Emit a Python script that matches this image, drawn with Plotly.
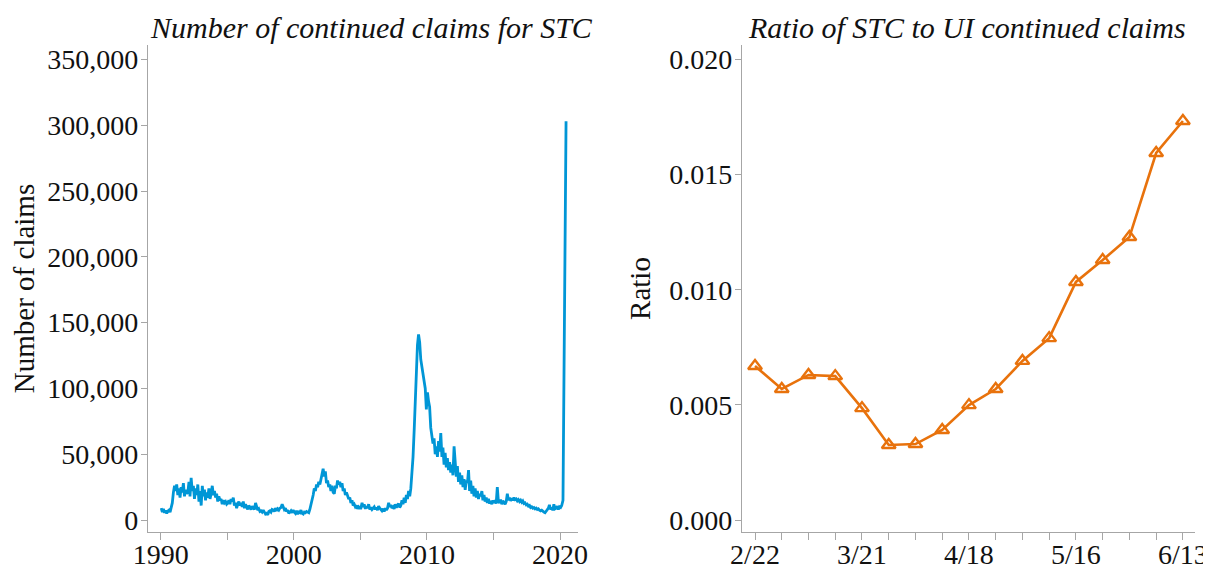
import pandas as pd
import plotly.graph_objects as go

# Monthly STC continued claims, Jan of first year onward
claims_1990s = [
    9000, 6000, 8500, 5500, 7200, 5000, 6800, 7500, 6000, 9000, 13000, 21000,
    26000, 22000, 27000, 19000, 24000, 17000, 25000, 21000, 28000, 18000, 23000, 20000,
    21000, 29000, 18000, 32000, 22000, 26000, 16000, 24000, 19000, 27000, 14000, 22000,
    11000, 26000, 18000, 23000, 15000, 21000, 17000, 24000, 16000, 20000, 26000, 19000,
    22000, 17000, 20000, 14000, 18000, 15000, 16000, 12000, 15000, 13000, 14000, 12000,
    13000, 15000, 12000, 16000, 14000, 17000, 11000, 13000, 9000, 12000, 14000, 11000,
    13000, 10000, 14000, 9000, 12000, 10000, 8000, 11000, 9500, 8000, 10500, 9000,
    8000, 13000, 9000, 7500, 8500, 6500, 7000, 6000, 7500, 5500, 4500, 5000,
    4000, 6500, 7000, 6000, 8000, 7500, 6500, 9000, 7000, 8500, 7500, 9000,
    9500, 12000, 10000, 8000, 9000, 6500, 7500, 5000, 6000, 7000, 5500, 7500,
]
claims_2000s = [
    6000, 5000, 7000, 4500, 6000, 5500, 7500, 5000, 4500, 6000, 5500, 6500,
    6000, 5500, 8000, 11000, 15000, 19000, 24000, 22000, 27000, 25000, 29000, 27000,
    31000, 35000, 39000, 33000, 37000, 28000, 30000, 25000, 27000, 22000, 26000, 21000,
    20000, 26000, 24000, 30000, 27000, 29000, 25000, 28000, 22000, 24000, 19000, 21000,
    18000, 16000, 17000, 13000, 15000, 11000, 12000, 10000, 11000, 8500, 10000, 9000,
    9000, 13000, 10000, 12000, 8500, 10500, 9000, 12000, 8000, 9500, 8000, 9000,
    10000, 8000, 9500, 7500, 10500, 9000, 8000, 7000, 8500, 6500, 9000, 7500,
    9000, 13000, 10000, 11500, 9000, 10000, 8500, 12000, 9500, 11000, 12500, 9500,
    11000, 15000, 12000, 17000, 13000, 19000, 16000, 22000, 18000, 24000, 34000, 48000,
    68000, 96000, 121000, 133000, 141000, 135000, 122000, 116000, 110000, 106000, 100000, 84000,
]
claims_2010s = [
    97000, 90000, 86000, 70000, 64000, 58000, 62000, 50000, 56000, 48000, 60000, 52000,
    66000, 48000, 55000, 42000, 51000, 40000, 47000, 38000, 44000, 36000, 42000, 34000,
    56000, 38000, 33000, 41000, 29000, 36000, 27000, 34000, 25000, 31000, 23000, 30000,
    28000, 38000, 22000, 30000, 20000, 26000, 18000, 24000, 17000, 22000, 16000, 20000,
    18000, 22000, 15000, 19000, 14000, 17000, 13000, 16000, 12500, 14500, 12000, 15000,
    13000, 15000, 12500, 25000, 14000, 13000, 15500, 12000, 14500, 13500, 12000, 14000,
    20000, 15000, 17000, 14500, 16500, 15000, 17000, 15500, 16000, 14500, 15500, 14000,
    15000, 13500, 14500, 12500, 13000, 11500, 12000, 10500, 11000, 9500, 10000, 9000,
    9500, 8500, 9000, 8000, 8500, 7500, 7000, 7500, 6500, 6000, 5500, 6500,
    7500, 9000, 11500, 8000, 9500, 7500, 12000, 8500, 9000, 10500, 8000, 10000,
]
dates_2020 = ["2020-01-15", "2020-02-15", "2020-03-21", "2020-04-18", "2020-05-16", "2020-06-13"]
claims_2020 = [9500, 11000, 15000, 95000, 200000, 303000]

# Weekly ratio of STC to UI continued claims, 2020
ratio_weeks = [
    "2020-02-22", "2020-02-29", "2020-03-07", "2020-03-14", "2020-03-21", "2020-03-28",
    "2020-04-04", "2020-04-11", "2020-04-18", "2020-04-25", "2020-05-02", "2020-05-09",
    "2020-05-16", "2020-05-23", "2020-05-30", "2020-06-06", "2020-06-13",
]
ratio_values = [
    0.00669, 0.00569, 0.00630, 0.00625, 0.00486, 0.00326,
    0.00330, 0.00391, 0.00499, 0.00569, 0.00691, 0.00790,
    0.01034, 0.01129, 0.01229, 0.01594, 0.01733,
]
ratio_tick_labels = ["2/22", "", "", "", "3/21", "", "", "", "4/18", "", "", "", "5/16", "", "", "", "6/13"]

year_ticks = ["1990-01-01", "1995-01-01", "2000-01-01", "2005-01-01", "2010-01-01", "2015-01-01", "2020-01-01"]
year_labels = ["1990", "", "2000", "", "2010", "", "2020"]

BLUE = "#0096D6"
ORANGE = "#E8720C"
AXIS = "#A6A6A6"
FONT = "Liberation Serif"
TEXT = "#111"

monthly = claims_1990s + claims_2000s + claims_2010s
month_dates = pd.date_range("1990-01-01", periods=len(monthly), freq="MS") + pd.Timedelta(days=14)
claim_dates = list(month_dates.strftime("%Y-%m-%d")) + dates_2020
claim_values = monthly + claims_2020

fig = go.Figure()
fig.add_trace(go.Scatter(
    x=claim_dates, y=claim_values, mode="lines",
    line={"color": BLUE, "width": 2.8}, xaxis="x", yaxis="y", showlegend=False,
))
fig.add_trace(go.Scatter(
    x=ratio_weeks, y=ratio_values, mode="lines+markers",
    line={"color": ORANGE, "width": 2.6},
    marker={"symbol": "triangle-up-open", "size": 12, "color": ORANGE, "line": {"width": 2.4, "color": ORANGE}},
    xaxis="x2", yaxis="y2", showlegend=False,
))

axis_style = dict(
    showline=True, linecolor=AXIS, linewidth=1.2, ticks="outside", tickcolor=AXIS,
    ticklen=6, tickwidth=1.2, showgrid=False, zeroline=False, automargin=False,
    tickfont={"family": FONT, "size": 28, "color": TEXT},
)
x_style = dict(axis_style, ticklen=7, ticklabelstandoff=-10)
y_style = dict(axis_style, ticklabelstandoff=-3)

# the page body keeps its default 8px margin, so the figure is 8px smaller
fig.update_layout(
    width=1203, height=559,
    paper_bgcolor="white", plot_bgcolor="white",
    margin={"l": 140, "r": 16, "t": 37, "b": 35},
    font={"family": FONT, "color": TEXT},
    xaxis=dict(x_style, domain=[0, 0.4107], type="date",
               range=["1989-01-17", "2021-05-07"],
               tickvals=year_ticks, ticktext=year_labels, anchor="y"),
    yaxis=dict(y_style, range=[-9120, 361000], tickvals=list(range(0, 350001, 50000)),
               tickformat=",d", anchor="x",
               title={"text": "Number of claims", "font": {"family": FONT, "size": 29}, "standoff": 11}),
    xaxis2=dict(x_style, domain=[0.5673, 1], type="date",
                range=["2020-02-18 14:00", "2020-06-16 04:00"],
                tickvals=ratio_weeks, ticktext=ratio_tick_labels, anchor="y2"),
    yaxis2=dict(y_style, range=[-0.00052, 0.02063], dtick=0.005, tick0=0,
                tickformat=".3f", anchor="x2",
                title={"text": "Ratio", "font": {"family": FONT, "size": 29}, "standoff": 10}),
    annotations=[
        dict(text="<i>Number of continued claims for STC</i>", x=0.213, y=1.0, xref="paper", yref="paper",
             xanchor="center", yanchor="bottom", yshift=-1, showarrow=False,
             font={"family": FONT, "size": 30, "color": TEXT}),
        dict(text="<i>Ratio of STC to UI continued claims</i>", x=0.782, y=1.0, xref="paper", yref="paper",
             xanchor="center", yanchor="bottom", yshift=-1, showarrow=False,
             font={"family": FONT, "size": 30, "color": TEXT}),
    ],
)

fig.write_html("out.html")
